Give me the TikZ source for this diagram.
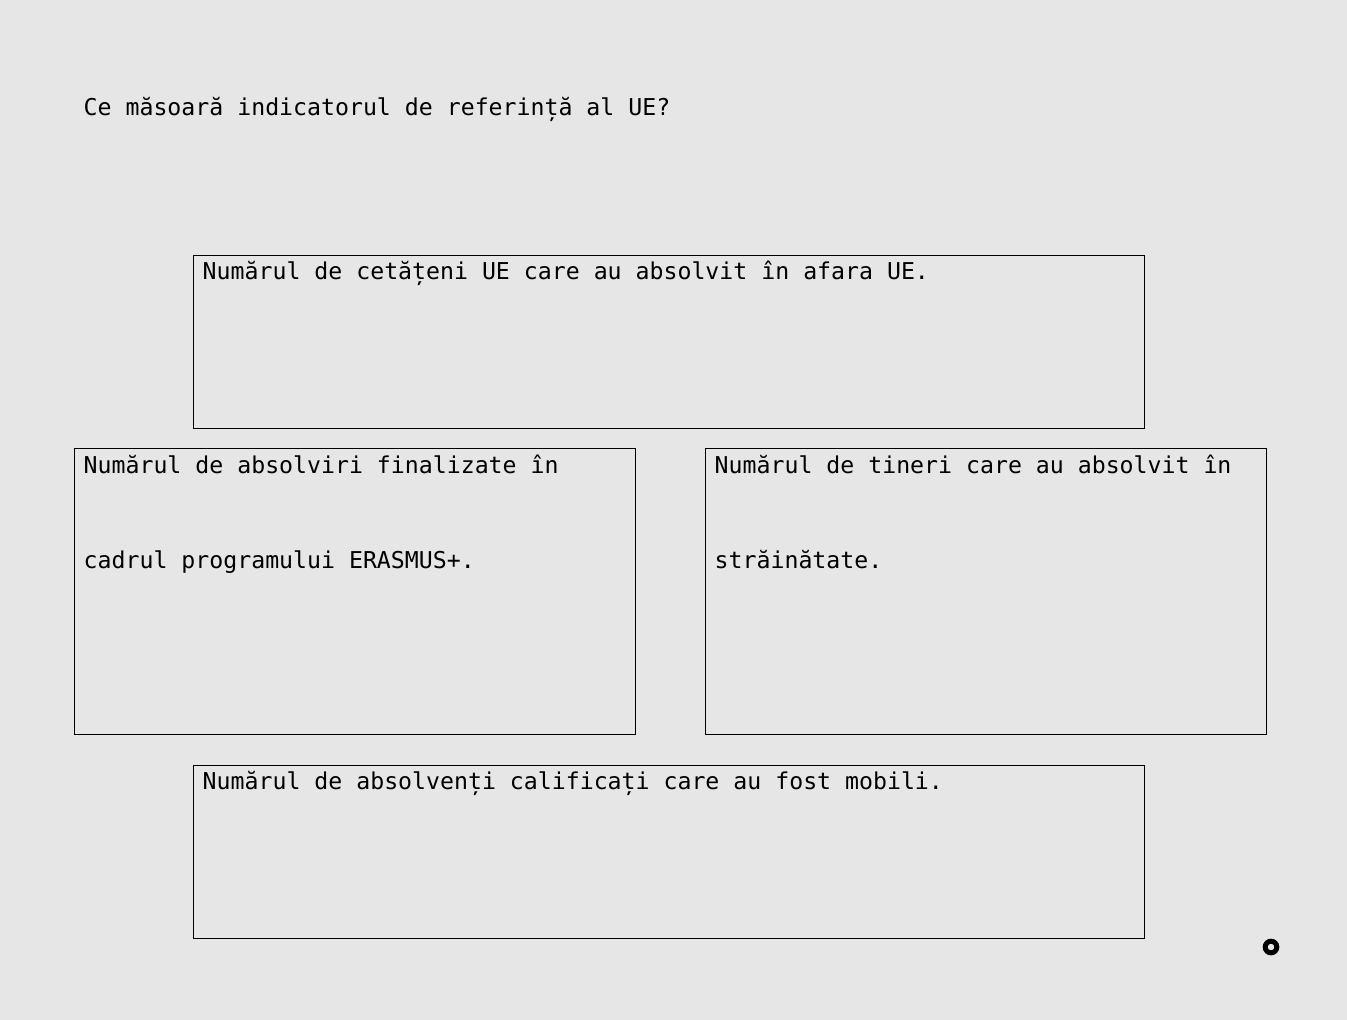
\documentclass[tikz,border=0pt]{standalone}
\usepackage{fontspec}
\setmonofont{DejaVu Sans Mono}
\definecolor{bggray}{HTML}{E6E6E6}

\begin{document}
\begin{tikzpicture}[x=1pt, y=-1pt,
    txt/.style={anchor=base west, inner sep=0pt, font=\ttfamily\fontsize{23.2}{23.2}\selectfont},
    answer/.style={draw, line width=0.9pt, anchor=north west, inner sep=0pt, outer sep=0pt}]
            \fill[bggray] (0, 0) rectangle (1347, 1020);
            \useasboundingbox (0, 0) rectangle (1347, 1020);

            \node[txt] (question) at (83.5, 115.5) {Ce măsoară indicatorul de referință al UE?};

            \node[answer, minimum width=951pt, minimum height=173pt] (top) at (193.5, 255.5) {};
            \node[answer, minimum width=561pt, minimum height=286pt] (left) at (74.5, 448.5) {};
            \node[answer, minimum width=561pt, minimum height=286pt] (right) at (705.5, 448.5) {};
            \node[answer, minimum width=951pt, minimum height=173pt] (bottom) at (193.5, 765.5) {};

            \node[txt] (toptext) at (202.5, 279.5) {Numărul de cetățeni UE care au absolvit în afara UE.};
            \node[txt] (lefttext) at (83.5, 473.5) {Numărul de absolviri finalizate în};
            \node[txt] at (83.5, 568.5) {cadrul programului ERASMUS+.};
            \node[txt] (righttext) at (714.5, 473.5) {Numărul de tineri care au absolvit în};
            \node[txt] at (714.5, 568.5) {străinătate.};
            \node[txt] (bottomtext) at (202.5, 789.5) {Numărul de absolvenți calificați care au fost mobili.};

            \draw[line width=5pt] (1271, 947) circle [radius=5.8];

        \end{tikzpicture}
\end{document}
